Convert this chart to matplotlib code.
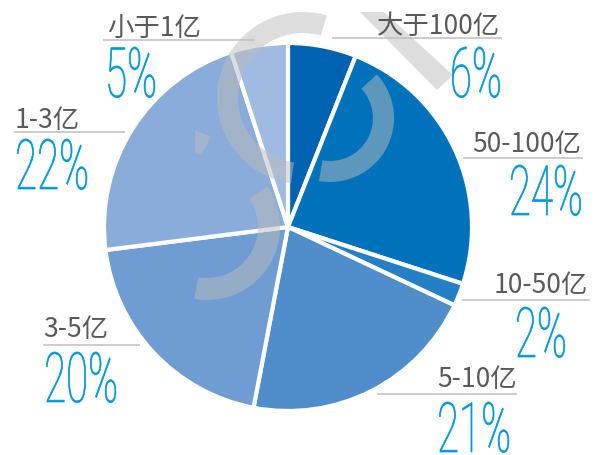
import numpy as np
import matplotlib
matplotlib.use("Agg")
import matplotlib.pyplot as plt
from matplotlib.patches import Wedge, Polygon
from matplotlib.patheffects import AbstractPathEffect
from matplotlib.transforms import Affine2D

# data, clockwise from 12 o'clock
categories = ['大于100亿', '50-100亿', '10-50亿', '5-10亿', '3-5亿', '1-3亿', '小于1亿']
shares = [6, 24, 2, 21, 20, 22, 5]
colors = ['#0063B1', '#0072BC', '#2480C4', '#4F8ECB', '#6F9DD3', '#8AACDA', '#A0BBE2']

W, H = 594, 455

def iy(y):
    # picture rows (top down) -> axis coords (bottom up)
    return H - y

# label layout in picture pixels:
# text x, text ha, text baseline, line x0, line x1, line y, pct x, pct ha, pct baseline
layout = {
    '大于100亿': (500, 'right', 34, 332, 502, 38, 502, 'right', 97),
    '50-100亿': (581, 'right', 152, 463, 583, 158, 583, 'right', 215),
    '10-50亿': (588, 'right', 293, 462, 590, 300, 541, 'center', 357),
    '5-10亿': (437, 'left', 387, 377, 517, 394, 437, 'left', 452),
    '3-5亿': (43, 'left', 337, 43, 140, 345, 44, 'left', 402),
    '1-3亿': (15, 'left', 128, 14, 125, 132, 15, 'left', 189),
    '小于1亿': (107, 'left', 36, 103, 255, 40, 105, 'left', 97),
}


class Squeeze(AbstractPathEffect):
    """Narrow the glyphs horizontally around the text anchor (condensed look)."""
    def __init__(self, sx, anchor, trans, lw=0.0):
        super().__init__()
        self.sx = sx
        self.anchor = anchor
        self.trans = trans
        self.lw = lw

    def draw_path(self, renderer, gc, tpath, affine, rgbFace=None):
        x0 = self.trans.transform(self.anchor)[0]
        aff = affine + Affine2D().translate(-x0, 0).scale(self.sx, 1).translate(x0, 0)
        if self.lw and rgbFace is not None:
            gc0 = renderer.new_gc()
            gc0.copy_properties(gc)
            gc0.set_foreground(rgbFace)
            gc0.set_linewidth(self.lw)
            renderer.draw_path(gc0, tpath, aff, rgbFace)
            gc0.restore()
        else:
            renderer.draw_path(gc, tpath, aff, rgbFace)


fig = plt.figure(figsize=(W / 100, H / 100), dpi=100)
ax = fig.add_axes([0, 0, 1, 1])

ax.pie(shares, colors=colors, startangle=90, counterclock=False,
       center=(288, iy(227)), radius=184,
       wedgeprops=dict(edgecolor='white', linewidth=3))

# watermark shapes on top of the pie
wm = dict(facecolor='#BCBCBC', edgecolor='none', alpha=0.5, zorder=3)
ax.add_patch(Wedge((303, iy(98)), 86, 74, 262, width=21, **wm))
ax.add_patch(Wedge((330, iy(118)), 64, -100, 43, width=21, **wm))
ax.add_patch(Wedge((207, iy(227)), 73, -100, 34, width=22, **wm))
ax.add_patch(Polygon([(360, iy(12)), (384, iy(12)), (453, iy(75)), (437, iy(90))], **wm))
ax.add_patch(Polygon([(195, iy(130)), (211, iy(137)), (201, iy(155)), (195, iy(153))], **wm))

for cat, val in zip(categories, shares):
    tx, tha, tb, lx0, lx1, ly, px, pha, pb = layout[cat]
    ax.plot([lx0, lx1], [iy(ly), iy(ly)], color='#BFBFBF', lw=1.1, zorder=4,
            solid_capstyle='butt')
    ax.text(tx, iy(tb), cat, ha=tha, va='baseline', fontsize=19, color='#595959',
            family=['Noto Sans CJK SC', 'DejaVu Sans'], weight='light', zorder=5)
    ax.text(px, iy(pb), f'{val}%', ha=pha, va='baseline', fontsize=50, color='#0096DA',
            family=['Roboto', 'DejaVu Sans'], weight='light', zorder=5,
            path_effects=[Squeeze(0.58, (px, iy(pb)), ax.transData, lw=0.5)])

ax.set_xlim(0, W)
ax.set_ylim(0, H)
ax.set_aspect('equal')
ax.axis('off')

fig.savefig('out.png', dpi=100)
